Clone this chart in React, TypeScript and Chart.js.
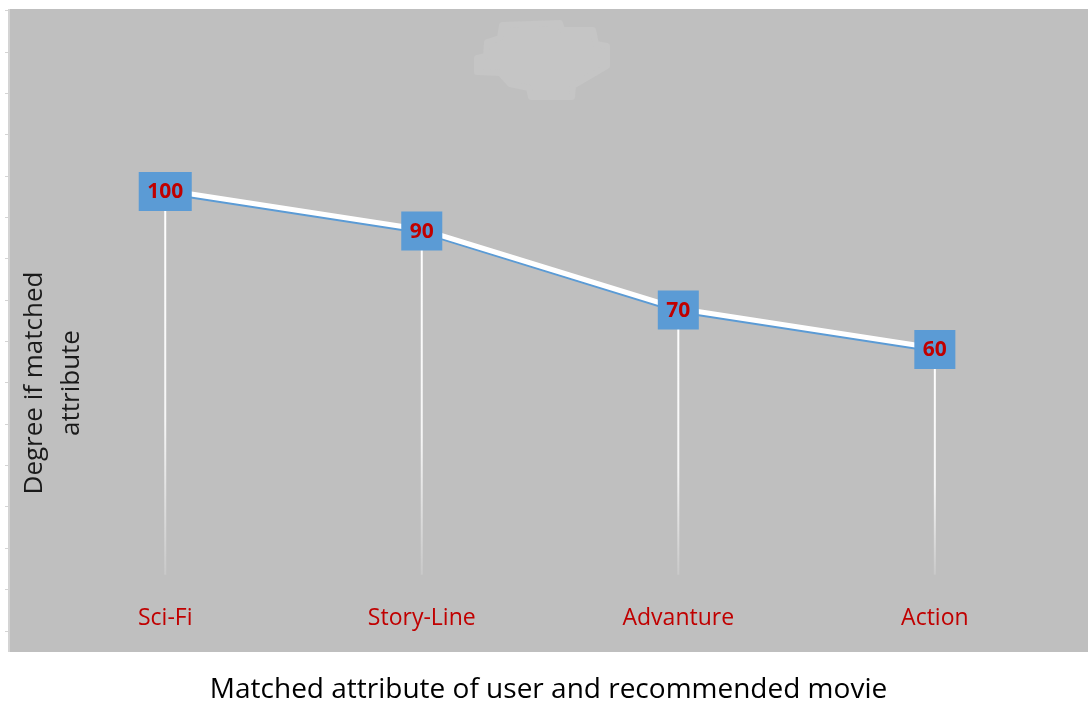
import { useEffect, useRef } from "react";
import { Chart, registerables } from "chart.js";

Chart.register(...registerables);

// Categories and the matching degree for each one
const CATEGORIES = ["Sci-Fi", "Story-Line", "Advanture", "Action"];
const VALUES = [100, 90, 70, 60];

const Y_TITLE_LINES = ["Degree if matched", "attribute"];
const X_TITLE = "Matched attribute of user and recommended movie";

// Axis ranges
const Y_MIN = -16.33;
const Y_MAX = 145.95;
const X_MIN = -0.609;
const X_MAX = 3.597;
const Y_TICK_FIRST = -11.27;
const Y_TICK_STEP = 10.47;
// value where the category axis sits and where the drop lines stop
const X_AXIS_AT = 0;
const DROP_BASE = 3;

const FONT = "'Open Sans', 'Noto Sans', sans-serif";
const PLOT_BG = "#bfbfbf";
const BLUE = "#5b9bd5";
const DARK_RED = "#c00000";

const backgroundPlugin = {
  id: "plotBackground",
  beforeDraw(chart: any) {
    const { ctx } = chart;
    ctx.save();
    ctx.fillStyle = "#ffffff";
    ctx.fillRect(0, 0, chart.width, chart.height);
    ctx.fillStyle = PLOT_BG;
    ctx.fillRect(8, 9, chart.width - 8, 643);
    // faint light patch near the top
    const patch = [
      [502, 25], [560, 23], [562, 30], [593, 30], [596, 44], [607, 46],
      [607, 66], [590, 76], [573, 86], [572, 97], [531, 97], [529, 88],
      [510, 84], [500, 73], [477, 72], [477, 58], [486, 56], [487, 42], [500, 38],
    ];
    ctx.fillStyle = "#c5c5c5";
    ctx.strokeStyle = "#c5c5c5";
    ctx.lineWidth = 6;
    ctx.lineJoin = "round";
    ctx.beginPath();
    patch.forEach(([x, y], i) => (i ? ctx.lineTo(x, y) : ctx.moveTo(x, y)));
    ctx.closePath();
    ctx.fill();
    ctx.stroke();
    ctx.restore();
  },
};

const decorPlugin = {
  id: "decor",
  beforeDatasetsDraw(chart: any) {
    const { ctx, scales } = chart;
    const meta = chart.getDatasetMeta(0);
    const yBase = scales.y.getPixelForValue(DROP_BASE);
    ctx.save();
    // drop lines
    meta.data.forEach((pt: any) => {
      const grad = ctx.createLinearGradient(0, pt.y, 0, yBase);
      grad.addColorStop(0, "rgba(255,255,255,1)");
      grad.addColorStop(0.6, "rgba(255,255,255,0.85)");
      grad.addColorStop(1, "rgba(255,255,255,0.15)");
      ctx.strokeStyle = grad;
      ctx.lineWidth = 2;
      ctx.beginPath();
      ctx.moveTo(pt.x, pt.y);
      ctx.lineTo(pt.x, yBase);
      ctx.stroke();
    });
    // vertical axis title inside the plot
    ctx.fillStyle = "#1a1a1a";
    ctx.font = `26px ${FONT}`;
    ctx.textAlign = "center";
    ctx.textBaseline = "middle";
    const cx = [35, 72];
    Y_TITLE_LINES.forEach((line, i) => {
      ctx.save();
      ctx.translate(cx[i], 383);
      ctx.rotate(-Math.PI / 2);
      ctx.fillText(line, 0, 0);
      ctx.restore();
    });
    ctx.restore();
  },
  beforeDatasetDraw(chart: any, args: any) {
    if (args.index === 0) {
      chart.ctx.save();
      chart.ctx.translate(0, -1.5);
    }
  },
  afterDatasetDraw(chart: any, args: any) {
    if (args.index === 0) chart.ctx.restore();
  },
  afterDatasetsDraw(chart: any) {
    const { ctx } = chart;
    const meta = chart.getDatasetMeta(0);
    ctx.save();
    ctx.font = `bold 21px ${FONT}`;
    ctx.textAlign = "center";
    ctx.textBaseline = "middle";
    meta.data.forEach((pt: any, i: number) => {
      const text = String(VALUES[i]);
      const w = ctx.measureText(text).width + 17;
      const h = 39;
      ctx.fillStyle = BLUE;
      ctx.fillRect(pt.x - w / 2, pt.y - h / 2, w, h);
      ctx.fillStyle = DARK_RED;
      ctx.fillText(text, pt.x, pt.y + 1);
    });
    ctx.restore();
  },
};

export default function App() {
  const ref = useRef<HTMLCanvasElement>(null);

  useEffect(() => {
    document.body.style.margin = "0";
    Chart.defaults.font.family = FONT;
    const points = VALUES.map((v, i) => ({ x: i, y: v }));
    const chart = new Chart(ref.current!, {
      type: "line",
      data: {
        datasets: [
          {
            data: points,
            borderColor: "#ffffff",
            borderWidth: 5,
            pointRadius: 0,
            tension: 0,
          },
          {
            data: points,
            borderColor: BLUE,
            borderWidth: 6,
            pointRadius: 0,
            tension: 0,
          },
        ],
      },
      options: {
        responsive: false,
        animation: false,
        layout: { padding: { left: 5, top: 10, right: 0, bottom: 51 } },
        plugins: {
          legend: { display: false },
          tooltip: { enabled: false },
        },
        scales: {
          x: {
            type: "linear",
            position: { y: X_AXIS_AT },
            min: X_MIN,
            max: X_MAX,
            border: { display: false },
            grid: { display: false, drawTicks: false },
            afterBuildTicks: (scale: any) => {
              scale.ticks = CATEGORIES.map((_, i) => ({ value: i }));
            },
            ticks: {
              padding: 18,
              color: DARK_RED,
              font: { size: 23 },
              callback: (v: any) => CATEGORIES[Math.round(Number(v))] ?? "",
            },
            title: {
              display: true,
              text: X_TITLE,
              color: "#000000",
              font: { size: 28, lineHeight: 1 },
              padding: { top: 26, bottom: 1 },
            },
          },
          y: {
            min: Y_MIN,
            max: Y_MAX,
            border: { color: "#d4d4d4", width: 2 },
            grid: {
              drawOnChartArea: false,
              color: "#d4d4d4",
              tickLength: 4,
            },
            afterBuildTicks: (scale: any) => {
              const ticks = [];
              for (let v = Y_TICK_FIRST; v <= scale.max; v += Y_TICK_STEP) ticks.push({ value: v });
              scale.ticks = ticks;
            },
            ticks: { display: false },
          },
        },
      },
      plugins: [backgroundPlugin, decorPlugin],
    });
    return () => chart.destroy();
  }, []);

  return (
    <div style={{ width: 1088, height: 702 }}>
      <canvas ref={ref} width={1088} height={702} style={{ display: "block" }} />
    </div>
  );
}
